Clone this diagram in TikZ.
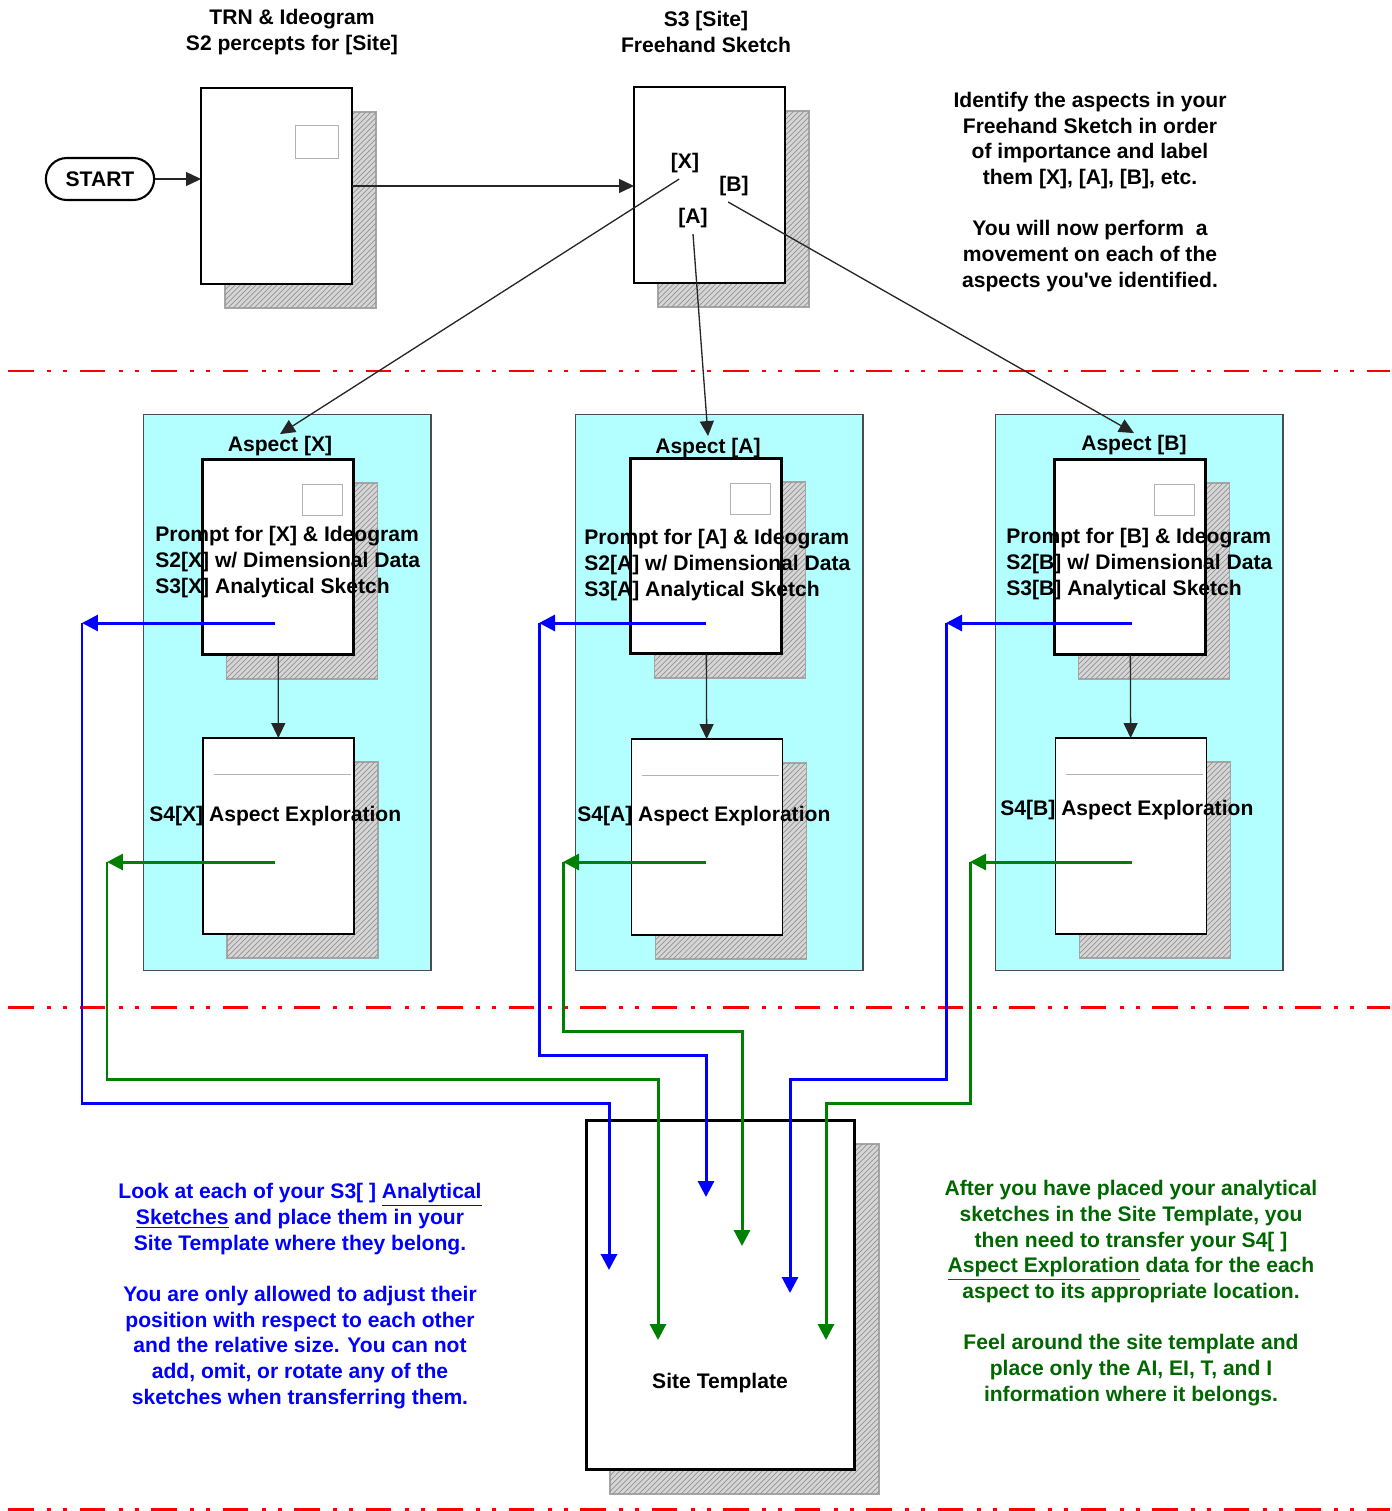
\documentclass[tikz,border=0pt]{standalone}
\usepackage{fontspec}
\setmainfont{Liberation Sans}
\usetikzlibrary{arrows.meta,positioning,patterns,shapes.misc}

\definecolor{aspectfill}{RGB}{179,255,255}
\definecolor{linkblue}{RGB}{0,0,255}
\definecolor{linkgreen}{RGB}{0,128,0}
\definecolor{notegreen}{RGB}{0,102,0}
\definecolor{cutred}{RGB}{255,0,0}

\begin{document}
\begin{tikzpicture}[x=0.02cm,y=-0.02cm,
  every node/.style={font=\fontsize{12}{14.6}\selectfont\bfseries},
  heading/.style={align=center,inner sep=1pt},
  remark/.style={align=center,inner sep=1pt},
  sheet/.style={draw,fill=white,line width=0.8pt,inner sep=0pt,outer sep=0pt,minimum width=3.02cm,minimum height=3.92cm},
  sheetshadow/.style={sheet,draw=gray!70,line width=1pt,fill=gray!32,postaction={pattern=north east lines,pattern color=gray!85}},
  sheetinfo/.style={draw=gray!60,line width=0.5pt},
  aspect/.style={draw=black!70,line width=0.6pt,fill=aspectfill,minimum width=5.76cm,minimum height=11.14cm,inner sep=0pt},
  link/.style={draw=black!85,line width=0.75pt,-{Triangle[length=0.3cm,width=0.28cm]}},
  bluelink/.style={draw=linkblue,line width=1.7pt,-{Triangle[length=0.32cm,width=0.32cm]}},
  greenlink/.style={draw=linkgreen,line width=1.7pt,-{Triangle[length=0.32cm,width=0.32cm]}},
  cut/.style={draw=cutred,line width=1.7pt,dash pattern=on 14.7pt off 7.6pt on 2.3pt off 6.8pt on 2.3pt off 7pt}
]
\useasboundingbox (0,0) rectangle (1392,1511);

% top row
\node[heading] (trntitle) at (292,32) {TRN \& Ideogram\\S2 percepts for [Site]};
\node[heading] (freetitle) at (706,32) {S3 [Site]\\Freehand Sketch};
\node[rounded rectangle,draw,line width=1.2pt,minimum width=2.4cm,minimum height=0.84cm] (start) at (100,179) {START};

\node[sheetshadow] (trnshadow) at (300.5,210) {};
\node[sheet,line width=1.1pt] (trn) at (276.5,186) {};
\draw[sheetinfo] ([shift={(18.5,-61)}]trn.center) rectangle ([shift={(61.5,-28)}]trn.center);

\node[sheetshadow] (freeshadow) at (733.5,209) {};
\node[sheet,line width=1.1pt] (free) at (709.5,185) {};
\node (lx) at (685,163) {[X]};
\node (lb) at (734,186) {[B]};
\node (la) at (693,218) {[A]};

\node[remark] (identify) at (1090,192) {Identify the aspects in your\\Freehand Sketch in order\\of importance and label\\them [X], [A], [B], etc.\\~\\You will now perform~ a\\movement on each of the\\aspects you\textquotesingle ve identified.};

\draw[link] (start.east) -- (start.east -| trn.west);
\draw[link] (trn.east) -- (trn.east -| free.west);

\draw[cut] (8,371) -- (1390,371);

% aspect boxes
\node[aspect] (boxX) at (287,692.5) {};
\node[aspect] (boxA) at (719,692.5) {};
\node[aspect] (boxB) at (1139,692.5) {};
\node[heading] (headX) at (280,446) {Aspect [X]};
\node[heading] (headA) at (708,448) {Aspect [A]};
\node[heading] (headB) at (1134,445) {Aspect [B]};

\node[sheetshadow] (promptXshadow) at (302,581) {};
\node[sheet,line width=1.7pt] (promptX) at (278,557) {};
\draw[sheetinfo] ([shift={(24,-73)}]promptX.center) rectangle ([shift={(64,-42)}]promptX.center);
\node[sheetshadow] (exploreXshadow) at (302.5,860) {};
\node[sheet] (exploreX) at (278.5,836) {};
\draw[sheetinfo] ([shift={(-65,-62)}]exploreX.center) -- ([shift={(72,-62)}]exploreX.center);

\node[sheetshadow] (promptAshadow) at (730,580) {};
\node[sheet,line width=1.7pt] (promptA) at (706,556) {};
\draw[sheetinfo] ([shift={(24,-73)}]promptA.center) rectangle ([shift={(64,-42)}]promptA.center);
\node[sheetshadow] (exploreAshadow) at (731,861) {};
\node[sheet] (exploreA) at (707,837) {};
\draw[sheetinfo] ([shift={(-65,-62)}]exploreA.center) -- ([shift={(72,-62)}]exploreA.center);

\node[sheetshadow] (promptBshadow) at (1154,581) {};
\node[sheet,line width=1.7pt] (promptB) at (1130,557) {};
\draw[sheetinfo] ([shift={(24,-73)}]promptB.center) rectangle ([shift={(64,-42)}]promptB.center);
\node[sheetshadow] (exploreBshadow) at (1155,860) {};
\node[sheet] (exploreB) at (1131,836) {};
\draw[sheetinfo] ([shift={(-65,-62)}]exploreB.center) -- ([shift={(72,-62)}]exploreB.center);

\node[align=left,inner sep=0pt,anchor=west] (promptXtext) at (155,562) {Prompt for [X] \& Ideogram\\S2[X] w/ Dimensional Data\\S3[X] Analytical Sketch};
\node[align=left,inner sep=0pt,anchor=west] (promptAtext) at (584,565) {Prompt for [A] \& Ideogram\\S2[A] w/ Dimensional Data\\S3[A] Analytical Sketch};
\node[align=left,inner sep=0pt,anchor=west] (promptBtext) at (1006,564) {Prompt for [B] \& Ideogram\\S2[B] w/ Dimensional Data\\S3[B] Analytical Sketch};
\node[inner sep=0pt,anchor=west] (exploreXtext) at (149,816) {S4[X] Aspect Exploration};
\node[inner sep=0pt,anchor=west] (exploreAtext) at (577,816) {S4[A] Aspect Exploration};
\node[inner sep=0pt,anchor=west] (exploreBtext) at (1000,810) {S4[B] Aspect Exploration};

\draw[link] (lx.250) -- (headX.north);
\draw[link] (la.south) -- (headA.north);
\draw[link] (lb.250) -- (headB.north);
\draw[link] (promptX) -- (exploreX);
\draw[link] (promptA) -- (exploreA);
\draw[link] (promptB) -- (exploreB);

\draw[cut] (8,1007) -- (1390,1007);

% site template
\node[sheetshadow,minimum width=5.38cm,minimum height=7cm] (siteshadow) at (744.5,1319) {};
\node[sheet,line width=1.7pt,minimum width=5.38cm,minimum height=7cm] (site) at (720.5,1295) {};
\node (sitetext) at (720,1383) {Site Template};

\coordinate (bXs) at (275,623);
\coordinate (bXt) at (82,623);
\coordinate (bXe) at (609,1270);
\coordinate (bAs) at (706,623);
\coordinate (bAt) at (539,623);
\coordinate (bAe) at (706,1197);
\coordinate (bBs) at (1132,623);
\coordinate (bBt) at (946,623);
\coordinate (bBe) at (790,1293);
\coordinate (gXs) at (275,862);
\coordinate (gXt) at (107,862);
\coordinate (gXe) at (658,1340);
\coordinate (gAs) at (706,862);
\coordinate (gAt) at (563,862);
\coordinate (gAe) at (742,1246);
\coordinate (gBs) at (1132,862);
\coordinate (gBt) at (970,862);
\coordinate (gBe) at (826,1340);

\draw[bluelink] (bXs) -- (bXt);
\draw[bluelink] (bXt) |- (609,1103) -- (bXe);
\draw[bluelink] (bAs) -- (bAt);
\draw[bluelink] (bAt) |- (706,1055) -- (bAe);
\draw[bluelink] (bBs) -- (bBt);
\draw[bluelink] (bBt) |- (790,1079) -- (bBe);
\draw[greenlink] (gXs) -- (gXt);
\draw[greenlink] (gXt) |- (658,1079) -- (gXe);
\draw[greenlink] (gAs) -- (gAt);
\draw[greenlink] (gAt) |- (742,1031) -- (gAe);
\draw[greenlink] (gBs) -- (gBt);
\draw[greenlink] (gBt) |- (826,1103) -- (gBe);

\node[remark,text=linkblue] (bluenote) at (300,1296) {Look at each of your S3[ ] \underline{Analytical}\\\underline{Sketches} and place them in your\\Site Template where they belong.\\~\\You are only allowed to adjust their\\position with respect to each other\\and the relative size. You can not\\add, omit, or rotate any of the\\sketches when transferring them.};
\node[remark,text=notegreen] (greennote) at (1131,1293) {After you have placed your analytical\\sketches in the Site Template, you\\then need to transfer your S4[ ]\\\underline{Aspect Exploration} data for the each\\aspect to its appropriate location.\\~\\Feel around the site template and\\place only the AI, EI, T, and I\\information where it belongs.};

\draw[cut] (8,1509) -- (1390,1509);
\end{tikzpicture}
\end{document}
